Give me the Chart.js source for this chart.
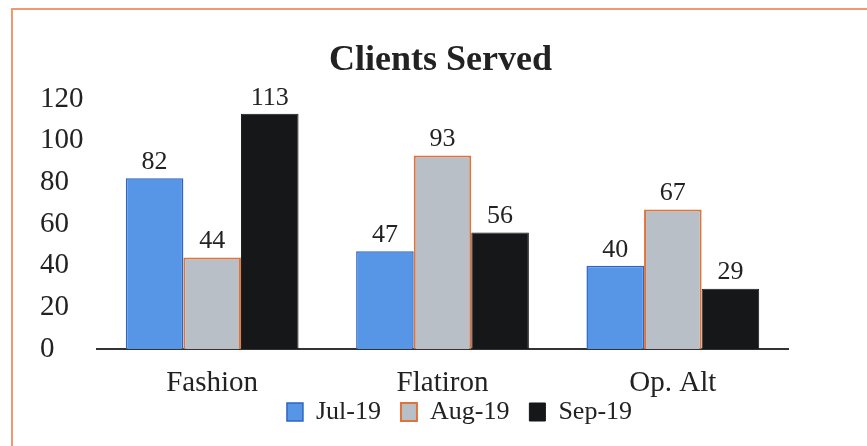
<!DOCTYPE html>
<html>
<head>
<meta charset="utf-8">
<script src="https://cdn.jsdelivr.net/npm/chart.js@4"></script>
<style>
  html, body { margin: 0; padding: 0; background: #fff; }
  #wrap { position: relative; width: 867px; height: 446px; overflow: hidden; }
  #frame {
    position: absolute; left: 11px; top: 8px; width: 900px; height: 500px;
    border-top: 2px solid #ee9a6c; border-left: 2px solid #ee9a6c;
  }
  canvas { position: absolute; left: 0; top: 0; }
</style>
</head>
<body>
<div id="wrap">
  <div id="frame"></div>
  <canvas id="chart" width="867" height="446"></canvas>
</div>
<script>
const categories = ['Fashion', 'Flatiron', 'Op. Alt'];
const seriesNames = ['Jul-19', 'Aug-19', 'Sep-19'];
const julValues = [82, 47, 40];
const augValues = [44, 93, 67];
const sepValues = [113, 56, 29];
const yTicks = [0, 20, 40, 60, 80, 100, 120];

const serif = "'Liberation Serif', 'Times New Roman', serif";

// value labels above each bar
const barLabels = {
    id: 'barLabels',
    afterDatasetsDraw(chart) {
        const ctx = chart.ctx;
        ctx.save();
        ctx.font = '26px ' + serif;
        ctx.fillStyle = '#222';
        ctx.textAlign = 'center';
        ctx.textBaseline = 'bottom';
        chart.data.datasets.forEach(function(ds, i) {
            chart.getDatasetMeta(i).data.forEach(function(bar, j) {
                ctx.fillText(ds.data[j], bar.x, bar.y - 3);
            });
        });
        ctx.restore();
    }
};

// category labels run past the x scale box into the legend area,
// and title / legend get nudged to where the original has them
const layoutTweaks = {
    id: 'layoutTweaks',
    afterLayout(chart) {
        chart.scales.x.bottom = chart.height;
        chart.titleBlock.left -= 13;
        chart.titleBlock.right -= 13;
        chart.legend.left += 6;
        chart.legend.right += 6;
    }
};

new Chart(document.getElementById('chart'), {
    type: 'bar',
    data: {
        labels: categories,
        datasets: [
            { label: seriesNames[0], data: julValues, backgroundColor: '#5795e6', borderColor: '#2c66c4', borderWidth: 1.5 },
            { label: seriesNames[1], data: augValues, backgroundColor: '#b9bfc7', borderColor: '#e0733a', borderWidth: 2 },
            { label: seriesNames[2], data: sepValues, backgroundColor: '#151718', borderColor: '#151718', borderWidth: 1 }
        ]
    },
    options: {
        responsive: false,
        animation: false,
        layout: { padding: { left: 40, right: 0, top: 0, bottom: 11 } },
        datasets: { bar: { barPercentage: 1, categoryPercentage: 0.75 } },
        plugins: {
            title: {
                display: true,
                text: 'Clients Served',
                color: '#222',
                font: { family: serif, size: 36, weight: 'bold' },
                padding: { top: 39, bottom: 17 }
            },
            legend: {
                position: 'bottom',
                labels: {
                    color: '#222',
                    font: { family: serif, size: 26 },
                    boxWidth: 16,
                    boxHeight: 18,
                    padding: 20
                }
            },
            tooltip: { enabled: false }
        },
        scales: {
            x: {
                grid: { display: false },
                border: { display: true, color: '#333', width: 2 },
                ticks: { color: '#222', font: { family: serif, size: 29 }, padding: 9 },
                afterFit(scale) { scale.height = 30; }
            },
            y: {
                min: 0,
                max: 120,
                afterBuildTicks(axis) { axis.ticks = yTicks.map(v => ({ value: v })); },
                grid: { display: false, drawTicks: false },
                border: { display: false },
                ticks: { color: '#222', font: { family: serif, size: 29 }, padding: 12, crossAlign: 'far' },
                afterFit(scale) { scale.width = 57; }
            },
            // empty spacer on the right so the plot ends where the original does
            yRight: {
                position: 'right',
                grid: { display: false, drawTicks: false },
                border: { display: false },
                ticks: { display: false },
                afterFit(scale) { scale.width = 79; }
            }
        }
    },
    plugins: [barLabels, layoutTweaks]
});
</script>
</body>
</html>
